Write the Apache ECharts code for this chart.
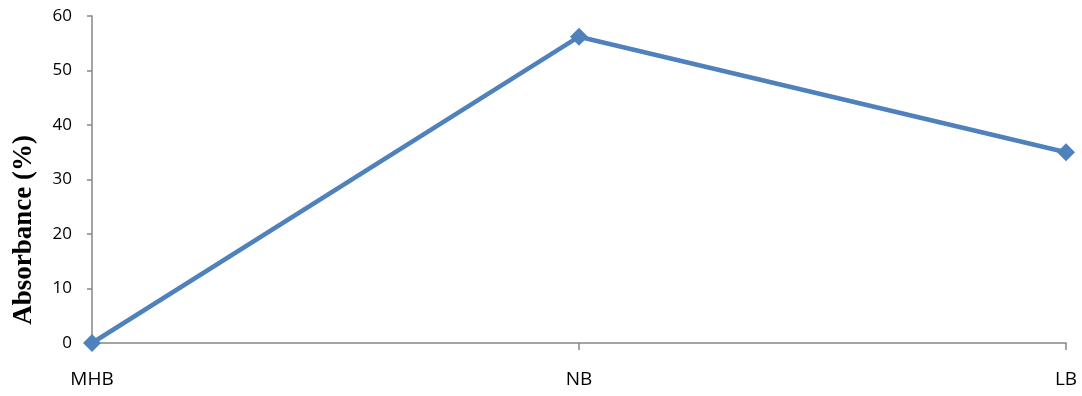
<!DOCTYPE html>
<html>
<head>
<meta charset="utf-8">
<script src="https://cdn.jsdelivr.net/npm/echarts@6/dist/echarts.min.js"></script>
<style>
  html, body { margin: 0; padding: 0; background: #fff; }
  #chart { width: 1082px; height: 396px; }
</style>
</head>
<body>
<div id="chart"></div>
<script>
// Absorbance for each sample group
const categories = ['MHB', 'NB', 'LB'];
const absorbance = [0, 56.2, 35.0];
const yTicks = { min: 0, max: 60, interval: 10 };
const yTitle = 'Absorbance (%)';

const chart = echarts.init(document.getElementById('chart'));
const labelFont = '"Open Sans", "Noto Sans", sans-serif';
const axisGray = '#868686';

chart.setOption({
  animation: false,
  grid: { left: 92, right: 16, top: 16, bottom: 53, containLabel: false },
  xAxis: {
    type: 'category',
    data: categories,
    boundaryGap: false,
    axisLine: { lineStyle: { color: axisGray, width: 1.5 } },
    axisTick: { show: true, length: 7, alignWithLabel: true, lineStyle: { color: axisGray, width: 1.5 } },
    axisLabel: { color: '#000', fontFamily: labelFont, fontSize: 19, margin: 27 },
    splitLine: { show: false }
  },
  yAxis: {
    type: 'value',
    min: yTicks.min,
    max: yTicks.max,
    interval: yTicks.interval,
    axisLine: { show: true, lineStyle: { color: axisGray, width: 1.5 } },
    axisTick: { show: true, length: 5, lineStyle: { color: axisGray, width: 1.5 } },
    axisLabel: { color: '#000', fontFamily: labelFont, fontSize: 17, margin: 20 },
    splitLine: { show: false }
  },
  graphic: [{
    type: 'text',
    x: 24,
    y: 230,
    rotation: Math.PI / 2,
    style: {
      text: yTitle,
      fill: '#000',
      font: 'bold 27px "Liberation Serif", "Times New Roman", serif',
      textAlign: 'center',
      textVerticalAlign: 'middle'
    }
  }],
  series: [{
    type: 'line',
    data: absorbance,
    symbol: 'diamond',
    symbolSize: 18,
    lineStyle: { color: '#4F81BD', width: 4.5 },
    itemStyle: { color: '#4F81BD' }
  }]
});
</script>
</body>
</html>
